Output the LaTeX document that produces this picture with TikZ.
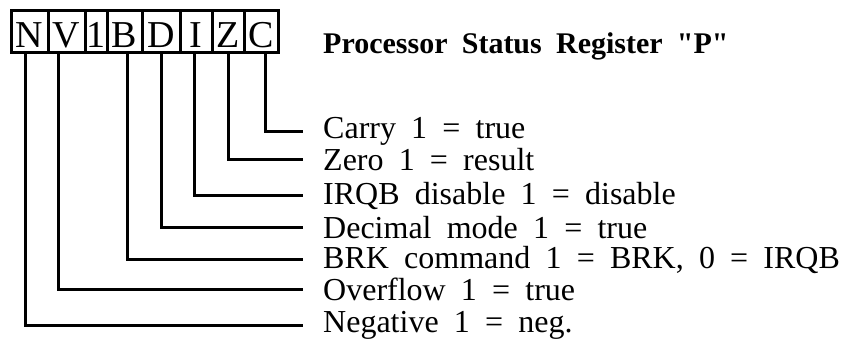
\documentclass[tikz,border=0pt]{standalone}
\usepackage{fontspec}
\setmainfont{Liberation Serif}
\newfontfamily\lblfont[WordSpace=2]{Liberation Serif}
\newfontfamily\ttlfont[WordSpace=1.9]{Liberation Serif}
\usetikzlibrary{positioning}

\tikzset{
  bitcell/.style={draw, line width=3pt, outer sep=0pt, inner sep=0pt,
    minimum height=42pt, text height=31pt, text depth=0pt,
    font=\fontsize{38}{38}\selectfont},
  flagline/.style={line width=3pt},
  flaglabel/.style={anchor=mid west, inner sep=0pt,
    font=\lblfont\fontsize{32}{32}\selectfont},
}

\begin{document}
\begin{tikzpicture}[x=1pt,y=-1pt]
\useasboundingbox (0,0) rectangle (846,345);

% register bits
\node[bitcell, minimum width=37pt, anchor=west] (N) at (11,32) {N};
\node[bitcell, minimum width=37pt, right=0pt of N] (V) {V};
\node[bitcell, minimum width=22pt, right=0pt of V] (one) {1};
\node[bitcell, minimum width=35pt, right=0pt of one] (B) {B};
\node[bitcell, minimum width=38pt, right=0pt of B] (D) {D};
\node[bitcell, minimum width=32pt, right=0pt of D] (I) {I};
\node[bitcell, minimum width=32pt, right=0pt of I] (Z) {Z};
\node[bitcell, minimum width=34pt, right=0pt of Z] (C) {C};

\node[anchor=base west, inner sep=0pt,
  font=\ttlfont\bfseries\fontsize{30}{30}\selectfont] (title) at (323,54)
  {Processor Status Register "P"};

% flag meanings
\node[flaglabel] (lC) at (323,136) {Carry 1 = true};
\node[flaglabel] (lZ) at (323,168) {Zero 1 = result};
\node[flaglabel] (lI) at (323,202) {IRQB disable 1 = disable};
\node[flaglabel] (lD) at (323,236) {Decimal mode 1 = true};
\node[flaglabel] (lB) at (323,266) {BRK command 1 = BRK, 0 = IRQB};
\node[flaglabel] (lV) at (323,298) {Overflow 1 = true};
\node[flaglabel] (lN) at (323,330) {Negative 1 = neg.};

\foreach \bit/\dx in {N/-4.5, V/-8.5, B/2.5, D/0, I/-2, Z/0, C/4}
  \draw[flagline] ([xshift=\dx pt]\bit.south) |- ([xshift=-20pt]l\bit.west);
\end{tikzpicture}
\end{document}
